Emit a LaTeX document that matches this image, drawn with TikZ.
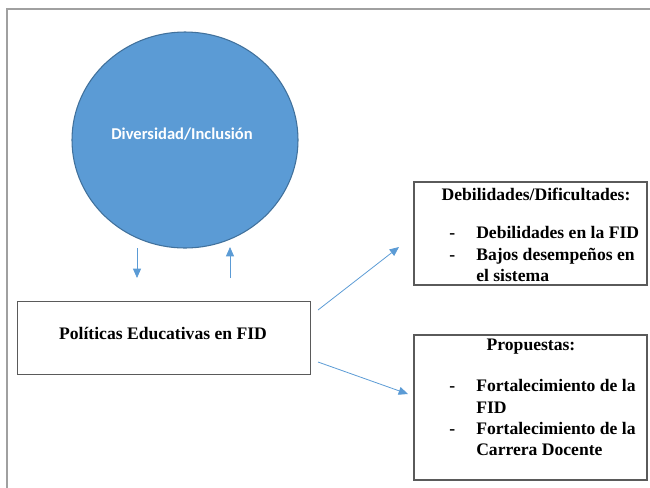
\documentclass[tikz,border=0pt]{standalone}
\usepackage{fontspec}
\setmainfont{Liberation Serif}
\newfontfamily\calib{Carlito}
\usetikzlibrary{arrows.meta,shapes.geometric}

\definecolor{circblue}{HTML}{5B9BD5}
\definecolor{circedge}{HTML}{41719C}
\definecolor{arrblue}{HTML}{5B9BD5}
\definecolor{framegray}{HTML}{A0A0A0}
\definecolor{boxgray}{HTML}{5A5A5A}

\tikzset{
  box/.style={draw=boxgray, line width=0.8pt, inner sep=0pt},
  arr/.style={draw=arrblue, line width=0.6pt, -{Triangle[length=7pt,width=6pt]}},
  txt/.style={font=\bfseries\fontsize{13.2}{15}\selectfont, inner sep=0pt},
  item/.style={txt, anchor=base west},
}

\begin{document}
\begin{tikzpicture}[x=0.75pt, y=-0.75pt]
\useasboundingbox (0,0) rectangle (650,487);
% outer frame
\draw[framegray, line width=1.5pt] (652,9) -| (7,489);

% circle
\node[ellipse, minimum width=226*0.75pt, minimum height=216*0.75pt, fill=circblue,
      draw=circedge, line width=0.8pt, inner sep=0pt] (div) at (185,140) {};
\node[font=\calib\bfseries\fontsize{12.4}{14}\selectfont, text=white, inner sep=0pt]
      (divtxt) at (182,134) {Diversidad/Inclusión};

% boxes
\node[box, minimum width=293*0.75pt, minimum height=73*0.75pt] (pol) at (164,338) {};
\node[txt] (poltxt) at (163,333) {Políticas Educativas en FID};

\node[box, minimum width=233*0.75pt, minimum height=103*0.75pt] (deb) at (530.5,233.5) {};
\node[txt] (debtit) at (536,194) {Debilidades/Dificultades:};
\node[item] (deb1d) at (449,238) {-};
\node[item] (deb1) at (476,238) {Debilidades en la FID};
\node[item] (deb2d) at (449,260) {-};
\node[item] (deb2) at (476,260) {Bajos desempeños en};
\node[item] (deb3) at (476,281) {el sistema};

\node[box, minimum width=233*0.75pt, minimum height=145*0.75pt] (pro) at (530.5,407.5) {};
\node[txt] (protit) at (531,347) {Propuestas:};
\node[item] (pro1d) at (449,391) {-};
\node[item] (pro1) at (476,391) {Fortalecimiento de la};
\node[item] (pro2) at (476,413) {FID};
\node[item] (pro3d) at (449,434) {-};
\node[item] (pro3) at (476,434) {Fortalecimiento de la};
\node[item] (pro4) at (476,455) {Carrera Docente};

% connectors
\coordinate (dwnA) at (137,248);
\coordinate (dwnB) at (137,278);
\coordinate (upA) at (230,278);
\coordinate (upB) at (230,247);
\coordinate (outA) at (318,310);
\coordinate (outB) at (399,247);
\coordinate (outC) at (318,362);
\coordinate (outD) at (408,394);
\draw[arr] (dwnA) -- (dwnB);
\draw[arr] (upA) -- (upB);
\draw[arr] (outA) -- (outB);
\draw[arr] (outC) -- (outD);
\end{tikzpicture}
\end{document}
